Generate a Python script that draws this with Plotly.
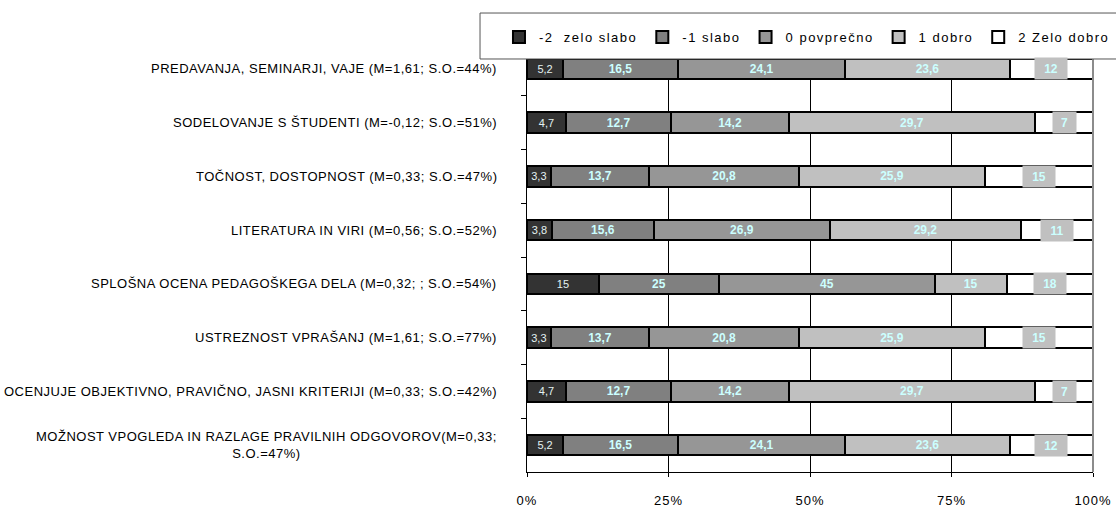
import plotly.graph_objects as go

categories = [
    "PREDAVANJA, SEMINARJI, VAJE (M=1,61; S.O.=44%)",
    "SODELOVANJE S ŠTUDENTI (M=-0,12; S.O.=51%)",
    "TOČNOST, DOSTOPNOST (M=0,33; S.O.=47%)",
    "LITERATURA IN VIRI (M=0,56; S.O.=52%)",
    "SPLOŠNA OCENA PEDAGOŠKEGA DELA (M=0,32; ; S.O.=54%)",
    "USTREZNOST VPRAŠANJ (M=1,61; S.O.=77%)",
    "OCENJUJE OBJEKTIVNO, PRAVIČNO, JASNI KRITERIJI (M=0,33; S.O.=42%)",
    "MOŽNOST VPOGLEDA IN RAZLAGE PRAVILNIH ODGOVOROV(M=0,33;<br>S.O.=47%)",
]
series_names = ["-2  zelo slabo", "-1 slabo", "0 povprečno", "1 dobro", "2 Zelo dobro"]
v_m2 = [5.2, 4.7, 3.3, 3.8, 15, 3.3, 4.7, 5.2]
v_m1 = [16.5, 12.7, 13.7, 15.6, 25, 13.7, 12.7, 16.5]
v_0 = [24.1, 14.2, 20.8, 26.9, 45, 20.8, 14.2, 24.1]
v_1 = [23.6, 29.7, 25.9, 29.2, 15, 25.9, 29.7, 23.6]
v_2 = [12, 7, 15, 11, 18, 15, 7, 12]
x_ticks = [0, 25, 50, 75, 100]

series = [v_m2, v_m1, v_0, v_1, v_2]
colors = ["#333333", "#808080", "#969696", "#C0C0C0", "#FFFFFF"]
FONT = "Liberation Sans, Arial, sans-serif"


def fmt(v):
    return f"{v:g}".replace(".", ",")


def spaced(s, px):
    return "<br>".join(f'<span style="letter-spacing:{px}px">{part}</span>'
                       for part in s.split("<br>"))


fig = go.Figure()
for i, (name, vals, col) in enumerate(zip(series_names, series, colors)):
    if i == 0:
        tfont = dict(family=FONT, size=11, color="#E4F2F2")
    else:
        tfont = dict(family=FONT, size=12, color="#CCFFFF", weight="bold")
    fig.add_trace(go.Bar(
        y=categories, x=vals, orientation="h",
        name=spaced(name, 1.5),
        marker=dict(color=col, line=dict(color="#000000", width=2)),
        text=[fmt(v) for v in vals] if i < 4 else None,
        textposition="inside" if i < 4 else "none",
        insidetextanchor="middle",
        textangle=0,
        textfont=tfont,
        cliponaxis=False,
        hoverinfo="skip",
    ))

annotations = []
# labels for the last (white) segment, with a grey box
for cat, row in zip(categories, zip(*series)):
    total = sum(row)
    last = row[-1]
    xc = (total - last / 2) / total * 100
    lab = fmt(last)
    annotations.append(dict(
        x=xc, y=cat, xref="x", yref="y", text=lab, showarrow=False,
        font=dict(family=FONT, size=12, color="#CCFFFF", weight="bold"),
        bgcolor="#C0C0C0", borderpad=0, height=21, width=14 + 9 * len(lab),
        xanchor="center", yanchor="middle",
    ))
# category labels
for cat in categories:
    annotations.append(dict(
        x=0, y=cat, xref="paper", yref="y", text=spaced(cat, 0.5), showarrow=False,
        xanchor="right", yanchor="middle", align="center", xshift=-28,
        font=dict(family=FONT, size=13, color="#000000"),
    ))

fig.update_layout(
    width=1116, height=509,
    margin=dict(l=527, r=23, t=42, b=37, autoexpand=False),
    barmode="stack", barnorm="percent", bargap=0.62,
    plot_bgcolor="#FFFFFF", paper_bgcolor="#FFFFFF",
    showlegend=True,
    legend=dict(
        orientation="h", x=-0.0495, xanchor="left", y=1.0116, yanchor="middle",
        bgcolor="rgba(0,0,0,0)", borderwidth=0,
        font=dict(family=FONT, size=13, color="#000000"),
        traceorder="normal",
    ),
    xaxis=dict(
        range=[0, 100], tickvals=x_ticks,
        ticktext=[spaced(f"{t}%", 1) for t in x_ticks],
        showgrid=True, gridcolor="#000000", gridwidth=1,
        showline=True, linecolor="#000000", linewidth=1,
        ticks="outside", ticklen=4, tickcolor="#000000",
        ticklabelstandoff=12,
        tickfont=dict(family=FONT, size=13, color="#000000"),
        zeroline=False, fixedrange=True,
    ),
    yaxis=dict(
        autorange="reversed", showticklabels=False,
        showline=True, linecolor="#000000", linewidth=1,
        ticks="outside", ticklen=5, tickcolor="#000000", tickson="boundaries",
        showgrid=False, zeroline=False, fixedrange=True,
    ),
    shapes=[
        dict(type="line", xref="paper", yref="paper", x0=1, x1=1, y0=0, y1=1,
             line=dict(color="#8C8C8C", width=2), layer="above"),
        dict(type="rect", xref="paper", yref="paper", x0=-0.083, x1=1.06,
             y0=0.9605, y1=1.0674, fillcolor="#FFFFFF",
             line=dict(color="#555555", width=1), layer="above"),
    ],
    annotations=annotations,
)

fig.write_html("out.html", config={"displayModeBar": False},
               post_script="document.body.style.margin='0';")
